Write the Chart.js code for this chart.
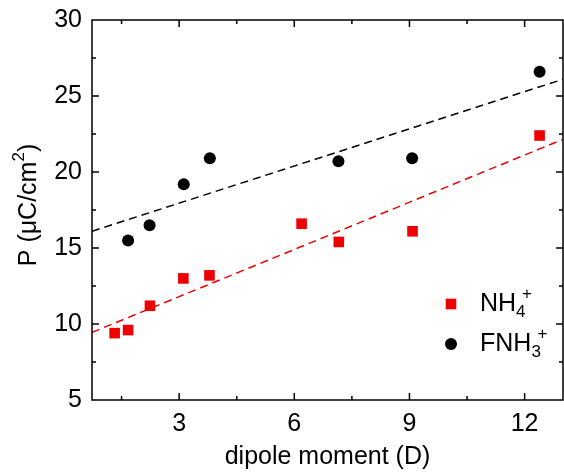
<!DOCTYPE html>
<html>
<head>
<meta charset="utf-8">
<script src="https://cdn.jsdelivr.net/npm/chart.js@4/dist/chart.umd.min.js"></script>
<style>
  html, body { margin: 0; padding: 0; background: #fff; }
</style>
</head>
<body>
<canvas id="chart" width="564" height="473"></canvas>
<script>
const FONT = "'Liberation Sans', Arial, sans-serif";
Chart.defaults.font.family = FONT;
Chart.defaults.color = '#000';

const RED = '#ee0000';
const BIG = 25;
const SMALL = 17;

// measured points: dipole moment (D) and polarization P
const nh4Dipole = [1.32, 1.67, 2.24, 3.11, 3.79, 6.19, 7.16, 9.08, 12.39];
const nh4P = [9.4, 9.6, 11.2, 13.0, 13.2, 16.6, 15.4, 16.1, 22.4];
const fnh3Dipole = [1.67, 2.23, 3.12, 3.80, 7.15, 9.07, 12.39];
const fnh3P = [15.5, 16.5, 19.2, 20.9, 20.7, 20.9, 26.6];

// linear fits, read where they meet the frame
const fitX = [0.73, 13];
const nh4Fit = [9.45, 22.15];
const fnh3Fit = [16.1, 26.1];

const xMinor = [1.5, 4.5, 7.5, 10.5];
const xMajor = [3, 6, 9, 12];
const yMinor = [7.5, 12.5, 17.5, 22.5, 27.5];
const yMajor = [10, 15, 20, 25];

const toPoints = (xs, ys) => xs.map((x, i) => ({ x: x, y: ys[i] }));

// draws text with stacked sub/superscripts
function drawRich(ctx, parts, x, y) {
    let cx = x;
    parts.forEach(p => {
        if (p.t) {
            ctx.font = BIG + 'px ' + FONT;
            ctx.fillText(p.t, cx, y);
            cx += ctx.measureText(p.t).width;
        } else {
            ctx.font = SMALL + 'px ' + FONT;
            let w = 0;
            if (p.sub) {
                ctx.fillText(p.sub, cx, y + 6);
                w = ctx.measureText(p.sub).width;
            }
            if (p.sup) {
                const off = p.sub ? 6 : 0;
                ctx.fillText(p.sup, cx + off, y - 12);
                w = Math.max(w, off + ctx.measureText(p.sup).width);
            }
            cx += w;
        }
    });
    return cx;
}

function richWidth(ctx, parts) {
    let w = 0;
    parts.forEach(p => {
        if (p.t) {
            ctx.font = BIG + 'px ' + FONT;
            w += ctx.measureText(p.t).width;
        } else {
            ctx.font = SMALL + 'px ' + FONT;
            const off = p.sub ? 6 : 0;
            w += Math.max(p.sub ? ctx.measureText(p.sub).width : 0,
                p.sup ? off + ctx.measureText(p.sup).width : 0);
        }
    });
    return w;
}

// frame with inward ticks on all four sides
const framePlugin = {
    id: 'frame',
    afterDatasetsDraw(chart) {
        const { ctx, chartArea: a, scales: { x, y } } = chart;
        ctx.save();
        ctx.strokeStyle = '#000';
        ctx.lineWidth = 1.5;
        ctx.strokeRect(a.left, a.top, a.right - a.left, a.bottom - a.top);
        ctx.beginPath();
        const xt = (v, len) => {
            const px = x.getPixelForValue(v);
            ctx.moveTo(px, a.bottom); ctx.lineTo(px, a.bottom - len);
            ctx.moveTo(px, a.top); ctx.lineTo(px, a.top + len);
        };
        const yt = (v, len) => {
            const py = y.getPixelForValue(v);
            ctx.moveTo(a.left, py); ctx.lineTo(a.left + len, py);
            ctx.moveTo(a.right, py); ctx.lineTo(a.right - len, py);
        };
        xMajor.forEach(v => xt(v, 7));
        xMinor.forEach(v => xt(v, 4));
        yMajor.forEach(v => yt(v, 7));
        yMinor.forEach(v => yt(v, 4));
        ctx.stroke();
        ctx.restore();
    },
    afterDraw(chart) {
        const { ctx, chartArea: a } = chart;
        ctx.save();
        ctx.fillStyle = '#000';
        ctx.textBaseline = 'alphabetic';

        // x title
        ctx.font = BIG + 'px ' + FONT;
        ctx.textAlign = 'center';
        ctx.fillText('dipole moment (D)', (a.left + a.right) / 2, 464);

        // y title, rotated
        ctx.textAlign = 'left';
        const yTitle = [{ t: 'P (\u03bcC/cm' }, { sup: '2' }, { t: ')' }];
        ctx.save();
        ctx.translate(36, 205);
        ctx.rotate(-Math.PI / 2);
        drawRich(ctx, yTitle, -richWidth(ctx, yTitle) / 2, 0);
        ctx.restore();

        // legend
        const s = 10.6;
        ctx.fillStyle = RED;
        ctx.fillRect(451 - s / 2, 304 - s / 2, s, s);
        ctx.fillStyle = '#000';
        ctx.beginPath();
        ctx.arc(451, 344, 6, 0, Math.PI * 2);
        ctx.fill();
        drawRich(ctx, [{ t: 'NH' }, { sub: '4', sup: '+' }], 480, 311);
        drawRich(ctx, [{ t: 'FNH' }, { sub: '3', sup: '+' }], 480, 351);
        ctx.restore();
    }
};

new Chart(document.getElementById('chart').getContext('2d'), {
    type: 'scatter',
    data: {
        datasets: [
            {
                label: 'NH4+',
                data: toPoints(nh4Dipole, nh4P),
                pointStyle: 'rect',
                pointRadius: 7.5,
                backgroundColor: RED,
                borderWidth: 0,
                order: 1
            },
            {
                label: 'FNH3+',
                data: toPoints(fnh3Dipole, fnh3P),
                pointStyle: 'circle',
                pointRadius: 6,
                backgroundColor: '#000',
                borderWidth: 0,
                order: 1
            },
            {
                label: 'NH4+ fit',
                data: toPoints(fitX, nh4Fit),
                showLine: true,
                borderColor: RED,
                borderWidth: 1.5,
                borderDash: [8, 5],
                pointRadius: 0,
                order: 2
            },
            {
                label: 'FNH3+ fit',
                data: toPoints(fitX, fnh3Fit),
                showLine: true,
                borderColor: '#000',
                borderWidth: 1.5,
                borderDash: [8, 5],
                pointRadius: 0,
                order: 2
            }
        ]
    },
    options: {
        responsive: false,
        animation: false,
        devicePixelRatio: 1,
        layout: {
            autoPadding: false,
            padding: { top: 20, right: 1, left: 0, bottom: 0 }
        },
        scales: {
            x: {
                type: 'linear',
                min: 0.73,
                max: 13,
                grid: { display: false, drawTicks: false },
                border: { display: false },
                ticks: {
                    stepSize: 3,
                    includeBounds: false,
                    padding: 9,
                    font: { size: BIG }
                },
                afterFit(scale) {
                    scale.height = 73;
                }
            },
            y: {
                min: 5,
                max: 30,
                grid: { display: false, drawTicks: false },
                border: { display: false },
                ticks: {
                    stepSize: 5,
                    padding: 10,
                    // small line height so the top label does not push the frame down
                    font: { size: BIG, lineHeight: 0.4 }
                },
                afterFit(scale) {
                    scale.width = 92;
                }
            }
        },
        plugins: {
            legend: { display: false },
            tooltip: { enabled: false }
        }
    },
    plugins: [framePlugin]
});
</script>
</body>
</html>
